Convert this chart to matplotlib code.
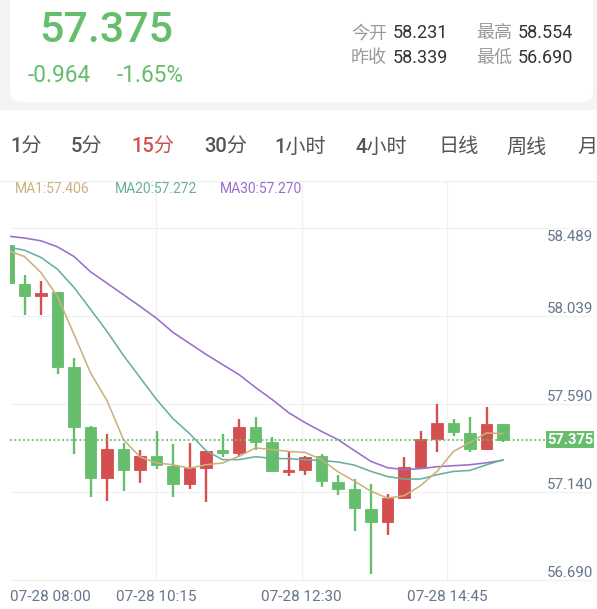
import matplotlib
matplotlib.use("Agg")
import matplotlib.pyplot as plt
from matplotlib.patches import FancyBboxPatch, Rectangle
from matplotlib.lines import Line2D
from matplotlib.transforms import ScaledTranslation, IdentityTransform, blended_transform_factory
import numpy as np

W, H, DPI = 597, 609, 100
FONT = ["Roboto", "Noto Sans CJK SC", "DejaVu Sans"]
plt.rcParams["font.family"] = FONT

# ---------------- data ----------------
time_labels = ["07-28 08:00", "07-28 10:15", "07-28 12:30", "07-28 14:45"]
opens = [58.368, 58.167, 58.109, 58.128, 57.745, 57.438, 57.179, 57.328, 57.222, 57.290,
         57.239, 57.150, 57.232, 57.320, 57.309, 57.442, 57.365, 57.211, 57.222, 57.293,
         57.160, 57.125, 57.022, 56.956, 57.079, 57.237, 57.380, 57.462, 57.411, 57.329,
         57.457]
highs = [58.368, 58.213, 58.183, 58.128, 57.789, 57.447, 57.406, 57.358, 57.324, 57.421,
         57.355, 57.360, 57.319, 57.406, 57.482, 57.493, 57.390, 57.314, 57.293, 57.304,
         57.196, 57.176, 57.150, 57.099, 57.288, 57.421, 57.559, 57.482, 57.488, 57.544,
         57.457]
lows = [58.173, 58.010, 58.010, 57.711, 57.302, 57.080, 57.063, 57.111, 57.155, 57.227,
        57.080, 57.125, 57.058, 57.288, 57.288, 57.324, 57.211, 57.191, 57.196, 57.135,
        57.094, 56.910, 56.690, 56.889, 57.073, 57.232, 57.314, 57.396, 57.314, 57.324,
        57.365]
closes = [58.173, 58.108, 58.124, 57.745, 57.438, 57.179, 57.328, 57.218, 57.290, 57.247,
          57.150, 57.232, 57.319, 57.307, 57.442, 57.365, 57.217, 57.222, 57.288, 57.165,
          57.125, 57.027, 56.956, 57.079, 57.237, 57.380, 57.462, 57.416, 57.329, 57.457,
          57.375]
ma1 = [58.339, 58.309, 58.227, 58.105, 57.912, 57.716, 57.574, 57.375, 57.287, 57.256,
       57.247, 57.229, 57.247, 57.256, 57.290, 57.333, 57.324, 57.315, 57.310, 57.273,
       57.211, 57.163, 57.112, 57.077, 57.089, 57.140, 57.213, 57.315, 57.361, 57.409,
       57.406]
ma20 = [58.357, 58.341, 58.304, 58.244, 58.151, 58.040, 57.927, 57.804, 57.692, 57.580,
        57.482, 57.406, 57.319, 57.273, 57.273, 57.288, 57.279, 57.278, 57.273, 57.269,
        57.261, 57.245, 57.213, 57.187, 57.174, 57.174, 57.196, 57.213, 57.218, 57.247,
        57.272]
ma30 = [58.413, 58.403, 58.389, 58.358, 58.309, 58.231, 58.173, 58.114, 58.055, 57.994,
        57.922, 57.866, 57.810, 57.758, 57.707, 57.641, 57.580, 57.513, 57.462, 57.417,
        57.375, 57.319, 57.264, 57.232, 57.222, 57.227, 57.237, 57.242, 57.247, 57.257,
        57.270]
y_tick_values = [58.489, 58.039, 57.590, 57.140, 56.690]
last_price = 57.375
change = -0.964
change_pct = -1.65
quote_names = ["今开", "最高", "昨收", "最低"]
quote_values = [58.231, 58.554, 58.339, 56.690]
tabs = ["1分", "5分", "15分", "30分", "1小时", "4小时", "日线", "周线", "月"]
active_tab = "15分"
ma_names = ["MA1", "MA20", "MA30"]

# ---------------- style ----------------
GREEN = "#66bd6b"
RED = "#d44f4f"
C_MA1 = "#c9b27d"
C_MA20 = "#6aae9f"
C_MA30 = "#9a6dcf"
AXIS_TXT = "#66758c"
GRID = "#f1f1f1"

fig = plt.figure(figsize=(W / DPI, H / DPI), dpi=DPI, facecolor="white")


def fx(x):
    return x / W


def fy(y):
    return 1 - y / H


# header background + card
fig.add_artist(Rectangle((0, fy(110)), 1, 110 / H, transform=fig.transFigure,
                         facecolor="#f4f4f4", edgecolor="none", zorder=0))
fig.add_artist(FancyBboxPatch((10, H - 102), 583, 140,
                              boxstyle="round,pad=0,rounding_size=12",
                              transform=IdentityTransform(),
                              facecolor="white", edgecolor="none", zorder=1))

fig.text(fx(39), fy(31), f"{last_price:.3f}", color=GREEN, fontsize=31,
         fontweight="medium", va="center", ha="left", zorder=3)
fig.text(fx(28), fy(75), f"{change:.3f}", color=GREEN, fontsize=16.3,
         va="center", ha="left", zorder=3)
fig.text(fx(117), fy(75), f"{change_pct:.2f}%", color=GREEN, fontsize=16.3,
         va="center", ha="left", zorder=3)

q_pos = [(351, 33), (476, 33), (351, 58), (476, 58)]
for (qx, qy), name, val in zip(q_pos, quote_names, quote_values):
    fig.text(fx(qx), fy(qy), name, color="#9a9a9a", fontsize=13,
             va="center", ha="left", zorder=3)
    fig.text(fx(qx + 42), fy(qy), f"{val:.3f}", color="#333333", fontsize=13,
             va="center", ha="left", zorder=3)

# tabs
tab_x = [10, 71, 131, 204, 274, 356, 438, 506, 577]
for tx, t in zip(tab_x, tabs):
    fig.text(fx(tx), fy(147), t, color=RED if t == active_tab else "#555555",
             fontsize=14.5, fontweight="medium", va="center", ha="left")

# separator line above legend
fig.add_artist(Line2D([0, 1], [fy(181), fy(181)], transform=fig.transFigure,
                      color="#f0f0f0", lw=0.8))

# legend
for lx, name, vals, col in zip([15, 115, 220], ma_names, [ma1, ma20, ma30],
                               [C_MA1, C_MA20, C_MA30]):
    fig.text(fx(lx), fy(189), f"{name}:{vals[-1]:.3f}", color=col, fontsize=10,
             va="center", ha="left")

# ---------------- chart ----------------
ax = fig.add_axes([fx(10), fy(582), (593 - 10) / W, (582 - 181) / H])
ax.set_facecolor("none")
for s in ax.spines.values():
    s.set_visible(False)
ax.set_xticks([])
ax.set_yticks([])

n = len(closes)
x = np.arange(n)
x0, x1 = 2 / 16.5, 585 / 16.5
ax.set_xlim(x0, x1)
ax.set_ylim(56.649, 58.694)

# vertical grid + time labels
xg = np.linspace(x0, x1, 5)
for k in range(1, 4):
    ax.axvline(xg[k], color=GRID, lw=0.9, zorder=0)
lab_tr = blended_transform_factory(ax.transData, ax.transAxes) + \
    ScaledTranslation(0, -15 / DPI, fig.dpi_scale_trans)
for k, lab in enumerate(time_labels):
    ax.text(xg[k], 0, lab, transform=lab_tr, ha="left" if k == 0 else "center",
            va="center", color=AXIS_TXT, fontsize=11, clip_on=False)

# horizontal grid + price labels
ytr = ax.get_yaxis_transform()
grid_tr = ytr + ScaledTranslation(0, -6.5 / DPI, fig.dpi_scale_trans)
for i, t in enumerate(y_tick_values):
    ax.plot([0, 1], [t, t], transform=grid_tr, color=GRID, lw=0.9, zorder=0)
    if i == 0:
        tr = ytr + ScaledTranslation(0, -8.5 / DPI, fig.dpi_scale_trans)
        va = "top"
    else:
        tr = ytr + ScaledTranslation(0, -3.3 / DPI, fig.dpi_scale_trans)
        va = "baseline"
    ax.text(1.0, t, f"{t:.3f}", transform=tr, ha="right", va=va,
            color=AXIS_TXT, fontsize=10.8, zorder=6)

# candles
o = np.array(opens); c = np.array(closes)
hi = np.array(highs); lo = np.array(lows)
cols = np.where(c >= o, RED, GREEN)
ax.vlines(x, lo, hi, colors=cols, lw=1.7, zorder=2)
body_bot = np.minimum(o, c)
body_h = np.maximum(np.abs(c - o), 0.011)
ax.bar(x, body_h, bottom=body_bot, width=0.72, color=cols, edgecolor=cols,
       lw=0.6, zorder=3)

# moving averages
ax.plot(x, ma30, color=C_MA30, lw=1.15, zorder=4)
ax.plot(x, ma20, color=C_MA20, lw=1.15, zorder=4)
ax.plot(x, ma1, color=C_MA1, lw=1.15, zorder=4)

# last price line + tag
ax.plot([0, (548 - 10) / 583], [closes[-1], closes[-1]], transform=ytr,
        color=GREEN, lw=1.2, ls=(0, (1.2, 1.4)), zorder=5)
ax.text(1.0, closes[-1], f"{last_price:.3f}", transform=ytr, ha="right",
        va="center", color="white", fontsize=10.5, fontweight="bold", zorder=7,
        bbox=dict(boxstyle="square,pad=0.08", fc=GREEN, ec="none"))

fig.savefig("out.png", dpi=DPI, facecolor="white")
